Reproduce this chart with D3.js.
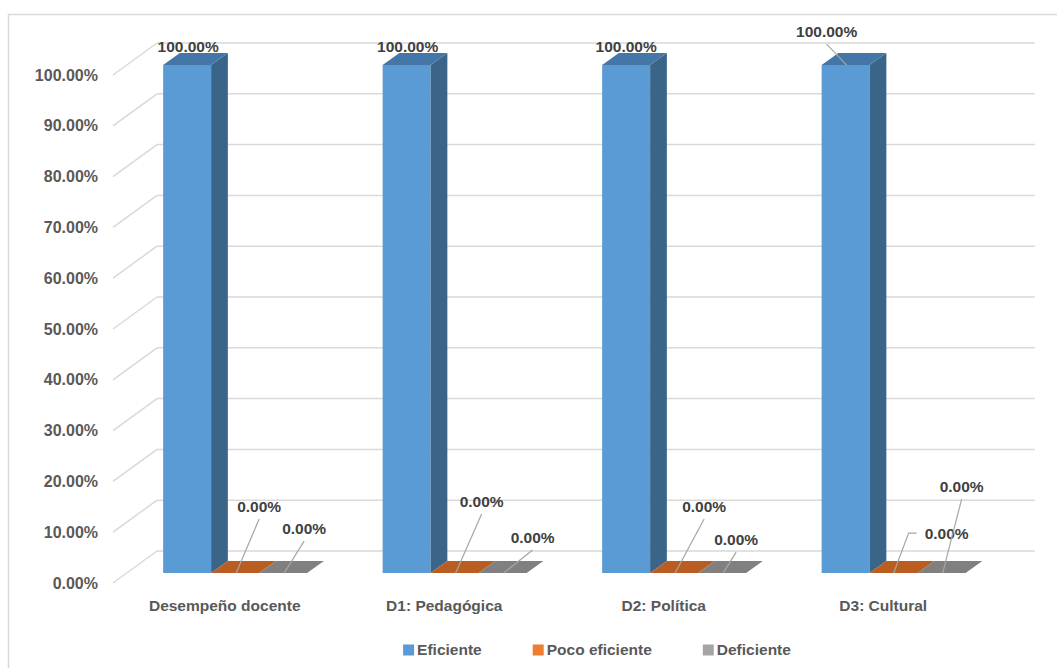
<!DOCTYPE html>
<html>
<head>
<meta charset="utf-8">
<script src="https://cdn.jsdelivr.net/npm/d3@7"></script>
<style>
  body { margin: 0; background: #fff; }
  svg { display: block; font-family: "Liberation Sans", Arial, sans-serif; font-weight: bold; }
  .tick-label { fill: #595959; font-size: 16px; }
  .cat-label { fill: #595959; font-size: 15.5px; }
  .data-label { fill: #404040; font-size: 15.5px; }
  .legend text { fill: #595959; font-size: 15.5px; }
</style>
</head>
<body>
<div id="chart"></div>
<script>
const categories = ['Desempeño docente', 'D1: Pedagógica', 'D2: Política', 'D3: Cultural'];
const series = ['Eficiente', 'Poco eficiente', 'Deficiente'];
const eficiente = [1, 1, 1, 1];
const pocoEficiente = [0, 0, 0, 0];
const deficiente = [0, 0, 0, 0];
const yTicks = [0, 0.1, 0.2, 0.3, 0.4, 0.5, 0.6, 0.7, 0.8, 0.9, 1];

// where Excel put each data label, relative to the bar top (manual placement)
const labelNudge = [
  [[1, -19, 'none'], [24, -67, 'down'], [21, -45, 'down']],
  [[1, -19, 'none'], [27, -72, 'down'], [30, -36, 'down']],
  [[0, -19, 'none'], [30, -67, 'down'], [14, -34, 'down']],
  [[-19, -34, 'down'], [53, -40, 'side'], [20, -87, 'down']]
];

const colors = {
  'Eficiente': {front: '#5b9bd5', side: '#3b6489', top: '#4576a8', legend: '#5b9bd5'},
  'Poco eficiente': {front: '#c55a11', side: '#9c4a14', top: '#b95d20', legend: '#ed7d31'},
  'Deficiente': {front: '#8a8a8a', side: '#6b6b6b', top: '#808080', legend: '#a5a5a5'}
};

const values = [eficiente, pocoEficiente, deficiente];

const W = 1057, H = 668;
const origin = {x: 113, y: 583};          // front plane, 0%
const depth = {dx: 44, dy: -32};          // front plane -> back wall
const barZ = [0.31, 0.69];                // bar front/back depth

const x = d3.scaleBand().domain(categories).range([0, 878]);
const xs = d3.scaleBand().domain(series).range([36.5, 36.5 + 144]);
const y = d3.scaleLinear().domain([0, 1]).range([0, 508]);
const fmt = d3.format('.2%');

// fake 3d: px along the categories, v value, z depth 0 (front) .. 1 (back wall)
function P(px, v, z) {
  return [origin.x + px + z * depth.dx, origin.y - y(v) + z * depth.dy];
}

const svg = d3.select('#chart').append('svg')
  .attr('width', W).attr('height', H);

// chart border
svg.append('rect')
  .attr('x', 8.5).attr('y', 14.5)
  .attr('width', W + 20).attr('height', H + 20)
  .attr('fill', 'none').attr('stroke', '#d9d9d9').attr('stroke-width', 1.5);

// gridlines: diagonal on the side + horizontal on the back wall
const grid = svg.append('g').attr('class', 'grid')
  .attr('stroke', '#d9d9d9').attr('stroke-width', 1.5).attr('fill', 'none');

grid.selectAll('.diag').data(yTicks).enter()
  .append('line')
  .attr('x1', d => P(0, d, 0)[0]).attr('y1', d => P(0, d, 0)[1])
  .attr('x2', d => P(0, d, 1)[0]).attr('y2', d => P(0, d, 1)[1]);

grid.selectAll('.back').data(yTicks).enter()
  .append('line')
  .attr('x1', d => P(0, d, 1)[0]).attr('y1', d => P(0, d, 1)[1])
  .attr('x2', d => P(x.range()[1], d, 1)[0]).attr('y2', d => P(x.range()[1], d, 1)[1]);

// y tick labels
svg.append('g').selectAll('text').data(yTicks).enter()
  .append('text')
  .attr('class', 'tick-label')
  .attr('x', 98)
  .attr('y', d => P(0, d, 0)[1])
  .attr('dy', '0.35em')
  .attr('text-anchor', 'end')
  .text(d => fmt(d));

// bars
const bars = [];
categories.forEach((c, ci) => {
  series.forEach((s, si) => {
    bars.push({cat: c, ci: ci, series: s, si: si, value: values[si][ci]});
  });
});

function poly(pts) {
  return pts.map(p => p.join(',')).join(' ');
}

const barG = svg.append('g').attr('class', 'bars');
bars.forEach(d => {
  const x0 = x(d.cat) + xs(d.series);
  const x1 = x0 + xs.bandwidth();
  const [zf, zb] = barZ;
  const col = colors[d.series];
  const g = barG.append('g');
  if (d.value > 0) {
    g.append('polygon').attr('fill', col.front)
      .attr('points', poly([P(x0, 0, zf), P(x1, 0, zf), P(x1, d.value, zf), P(x0, d.value, zf)]));
    g.append('polygon').attr('fill', col.side)
      .attr('points', poly([P(x1, 0, zf), P(x1, 0, zb), P(x1, d.value, zb), P(x1, d.value, zf)]));
  }
  g.append('polygon').attr('fill', col.top)
    .attr('points', poly([P(x0, d.value, zf), P(x1, d.value, zf), P(x1, d.value, zb), P(x0, d.value, zb)]));
  d.anchor = P((x0 + x1) / 2, d.value, zf);
});

// data labels with leader lines
const lblG = svg.append('g').attr('class', 'labels');
bars.forEach(d => {
  const [ndx, ndy, mode] = labelNudge[d.ci][d.si];
  const lx = d.anchor[0] + ndx, ly = d.anchor[1] + ndy;
  if (mode === 'down') {
    lblG.append('line')
      .attr('x1', lx).attr('y1', ly + 13)
      .attr('x2', d.anchor[0] + 1).attr('y2', d.anchor[1])
      .attr('stroke', '#a6a6a6').attr('stroke-width', 1.2);
  } else if (mode === 'side') {
    lblG.append('polyline')
      .attr('points', poly([[lx - 30, ly], [lx - 38, ly], [d.anchor[0], d.anchor[1]]]))
      .attr('fill', 'none')
      .attr('stroke', '#a6a6a6').attr('stroke-width', 1.2);
  }
  lblG.append('text')
    .attr('class', 'data-label')
    .attr('x', lx).attr('y', ly)
    .attr('dy', '0.35em')
    .attr('text-anchor', 'middle')
    .text(fmt(d.value));
});

// category labels
svg.append('g').selectAll('text').data(categories).enter()
  .append('text')
  .attr('class', 'cat-label')
  .attr('x', d => P(x(d) + x.bandwidth() / 2, 0, 0)[0] + 2)
  .attr('y', 606)
  .attr('dy', '0.35em')
  .attr('text-anchor', 'middle')
  .text(d => d);

// legend
const legend = svg.append('g').attr('class', 'legend');
let lxPos = 0;
series.forEach(s => {
  const g = legend.append('g').attr('transform', `translate(${lxPos},0)`);
  g.append('rect').attr('x', 0).attr('y', -5.5).attr('width', 11).attr('height', 11)
    .attr('fill', colors[s].legend);
  const t = g.append('text').attr('x', 14).attr('dy', '0.35em').text(s);
  lxPos += 14 + t.node().getComputedTextLength() + 51;
});
const total = lxPos - 51;
legend.attr('transform', `translate(${597 - total / 2},650)`);
</script>
</body>
</html>
